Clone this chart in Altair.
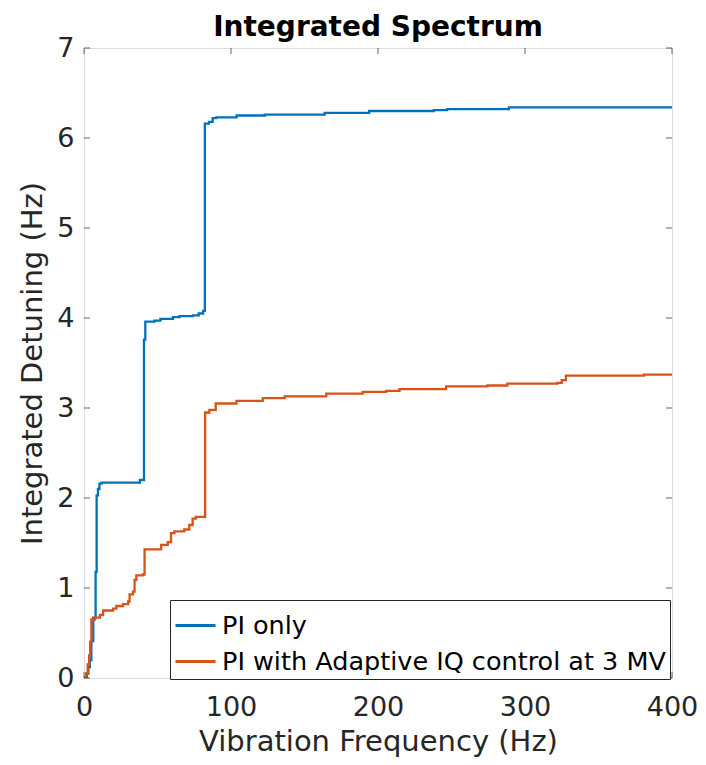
import altair as alt
import pandas as pd

# ---- data ----
series_names = ["PI only", "PI with Adaptive IQ control at 3 MV"]

freq_pi = [0, 2, 3, 4, 5, 6.3, 7.9, 8.6, 9.5, 10.5, 12, 38, 40.8, 41.7, 48, 52, 60.5,
           65, 74, 78, 81, 82.2, 85, 87.5, 90, 103.8, 123, 163.7, 194, 238, 247, 289, 400]
det_pi = [0, 0.05, 0.12, 0.2, 0.41, 0.67, 1.18, 2.03, 2.1, 2.16, 2.17, 2.2, 3.76, 3.96, 3.97,
          3.99, 4.01, 4.02, 4.03, 4.05, 4.08, 6.16, 6.18, 6.22, 6.23, 6.25, 6.26, 6.28, 6.30,
          6.31, 6.32, 6.34, 6.34]

freq_aiq = [0, 1.5, 2.5, 3.5, 4.2, 5.0, 7.5, 10.8, 13, 19.8, 22, 26.5, 30, 31, 33.3, 34.4,
            35.6, 40, 41.2, 52.5, 57, 59.2, 61.5, 68.2, 71.6, 73.9, 76, 82.4, 85.3, 89.6,
            103.7, 121.6, 136.5, 164.8, 189.6, 205.5, 214.6, 246.3, 274.4, 288, 322, 325,
            327.8, 381, 400]
det_aiq = [0, 0.05, 0.15, 0.25, 0.4, 0.65, 0.67, 0.70, 0.75, 0.77, 0.80, 0.82, 0.85, 0.93,
           0.96, 1.09, 1.14, 1.15, 1.43, 1.48, 1.51, 1.61, 1.63, 1.65, 1.70, 1.77, 1.79, 2.95,
           2.98, 3.05, 3.08, 3.11, 3.13, 3.16, 3.18, 3.19, 3.21, 3.24, 3.25, 3.27, 3.28, 3.31,
           3.36, 3.37, 3.37]

x_ticks = [0, 100, 200, 300, 400]
y_ticks = [0, 1, 2, 3, 4, 5, 6, 7]
colors = ["#0072BD", "#D95319"]

# ---- tables ----
df = pd.concat([
    pd.DataFrame({"freq": freq_pi, "det": det_pi, "series": series_names[0], "k": 0}),
    pd.DataFrame({"freq": freq_aiq, "det": det_aiq, "series": series_names[1], "k": 1}),
])
xt = pd.DataFrame({"v": x_ticks})
yt = pd.DataFrame({"v": y_ticks})

W, H = 588, 630
FONT = "DejaVu Sans"
AX = "#262626"

xs = alt.Scale(domain=[0, 400], nice=False)
ys = alt.Scale(domain=[0, 7], nice=False)

lines = alt.Chart(df).mark_line(interpolate="step-after", strokeWidth=2.3, clip=True).encode(
    x=alt.X("freq:Q", scale=xs,
            axis=alt.Axis(values=x_ticks, title="Vibration Frequency (Hz)", tickSize=0,
                          domain=False, grid=False, labelFontSize=27, titleFontSize=29,
                          labelPadding=16, titlePadding=7, labelColor=AX, titleColor=AX,
                          labelFont=FONT, titleFont=FONT, titleFontWeight="normal",
                          labelFlush=False, format="d")),
    y=alt.Y("det:Q", scale=ys,
            axis=alt.Axis(values=y_ticks, title="Integrated Detuning (Hz)", tickSize=0,
                          domain=False, grid=False, labelFontSize=27, titleFontSize=29,
                          labelPadding=10, titlePadding=9, labelColor=AX, titleColor=AX,
                          labelFont=FONT, titleFont=FONT, titleFontWeight="normal",
                          labelFlush=False, format="d")),
    color=alt.Color("series:N",
                    scale=alt.Scale(domain=series_names, range=colors),
                    legend=alt.Legend(orient="none", legendX=86, legendY=552, title=None,
                                      strokeColor=AX, fillColor="white", padding=4,
                                      labelFontSize=25.5, labelFont=FONT, labelColor="black",
                                      symbolType="stroke", symbolSize=1600,
                                      symbolStrokeWidth=3, labelOffset=5, rowPadding=1,
                                      labelLimit=600)),
    order=alt.Order("k:Q"),
)

tick_x_bottom = alt.Chart(xt).mark_tick(orient="vertical", size=6, thickness=1, color=AX).encode(
    x=alt.X("v:Q", scale=xs), y=alt.value(H - 3))
tick_x_top = alt.Chart(xt).mark_tick(orient="vertical", size=6, thickness=1, color=AX).encode(
    x=alt.X("v:Q", scale=xs), y=alt.value(3))
tick_y_left = alt.Chart(yt).mark_tick(orient="horizontal", size=6, thickness=1, color=AX).encode(
    y=alt.Y("v:Q", scale=ys), x=alt.value(3))
tick_y_right = alt.Chart(yt).mark_tick(orient="horizontal", size=6, thickness=1, color=AX).encode(
    y=alt.Y("v:Q", scale=ys), x=alt.value(W - 3))

chart = alt.layer(lines, tick_x_bottom, tick_x_top, tick_y_left, tick_y_right).properties(
    width=W, height=H,
    title=alt.TitleParams("Integrated Spectrum", fontSize=28, fontWeight="bold", font=FONT,
                          color="black", anchor="middle", offset=0, dy=8),
    autosize=alt.AutoSizeParams(type="none"),
    padding={"left": 76, "top": 40, "right": 26, "bottom": 79},
).configure_view(stroke=AX, strokeWidth=1.2).configure(background="white")

chart.save("out.html", embed_options={"renderer": "svg", "actions": False})
